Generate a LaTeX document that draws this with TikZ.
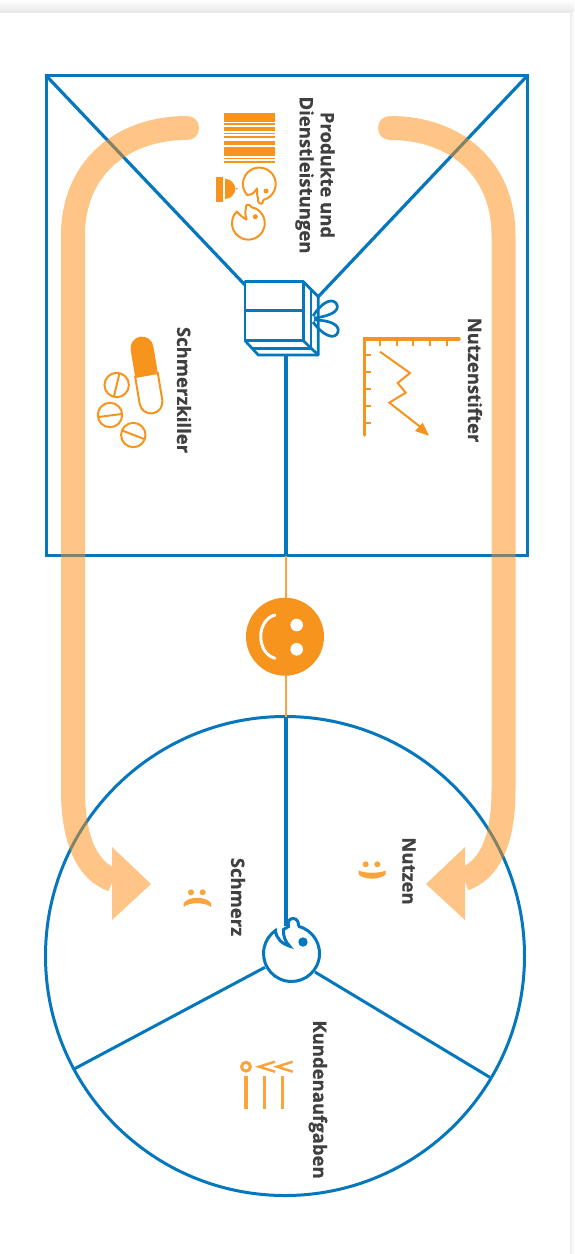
\documentclass[tikz,border=0pt]{standalone}
\usepackage{fontspec}
\setmainfont{Open Sans}[BoldFeatures={FakeBold=0.5}]
\definecolor{bl}{HTML}{0477BD}
\definecolor{og}{HTML}{F7941E}
\definecolor{og2}{HTML}{FBA33C}
\definecolor{fl}{HTML}{FF8D11}
\definecolor{tx}{HTML}{404040}
\tikzset{
  blueline/.style={draw=bl,line width=3pt},
  thinblue/.style={draw=bl,line width=3.2pt},
  orline/.style={draw=og,line width=2pt},
  flow/.style={draw=fl,line width=24pt,line cap=butt},
  flowtip/.style={fill=fl,draw=none},
  lab/.style={font=\bfseries\fontsize{18.5}{21}\selectfont,text=tx,rotate=-90,align=center,inner sep=0pt},
}
\begin{document}
\begin{tikzpicture}[x=1pt,y=-1pt]
\useasboundingbox (0,0) rectangle (574,1254);
\fill[white] (0,0) rectangle (574,1254);
\shade[top color=white,bottom color=black!9] (0,0) rectangle (574,12);
\shade[left color=black!7,right color=white] (570,12) rectangle (574,1254);
% value map
\node[blueline,outer sep=0pt,minimum width=481.5pt,minimum height=480pt,inner sep=0pt,anchor=north west] (map) at (46,75.5) {};
\coordinate (giftL) at (245,285);
\coordinate (giftR) at (318,297);
\draw[thinblue] (map.north west) -- (giftL);
\draw[thinblue] (map.north east) -- (giftR);
% profile circle
\node[blueline,circle,outer sep=0pt,minimum size=479pt,inner sep=0pt] (profile) at (285,956) {};
% fit line
\coordinate (giftB) at (286,355);
\coordinate (mapB) at (286,555.5);
\coordinate (circT) at (286,717);
\coordinate (headT) at (286,926);
\draw[draw=og2,line width=1.8pt] (mapB) -- (circT);
\node[circle,fill=og,minimum size=78pt,inner sep=0pt,outer sep=0pt] (smile) at (285,636.7) {};
\draw[thinblue] (giftB) -- (mapB);
\draw[thinblue] (circT) -- (headT);
% flows
\begin{scope}[transparency group,opacity=0.5]
\draw[flow] (187,128) .. controls (120,128) and (73,170) .. (73,235) -- (73,790) .. controls (73,845) and (90,872) .. (113,880);
\fill[fl] (187,116) .. controls (194,116) and (199,121) .. (199,128) .. controls (199,135) and (194,140) .. (187,140) -- cycle;
\fill[flowtip] (112,847) -- (151,884) -- (112,920) -- cycle;
\end{scope}
\begin{scope}[transparency group,opacity=0.5]
\draw[flow] (390,128) .. controls (457,128) and (503.5,170) .. (503.5,235) -- (503.5,790) .. controls (503.5,845) and (487,871) .. (464,879);
\fill[fl] (390,116) .. controls (383,116) and (378,121) .. (378,128) .. controls (378,135) and (383,140) .. (390,140) -- cycle;
\fill[flowtip] (465,847) -- (426,884) -- (465,920) -- cycle;
\end{scope}
% smile
\fill[white] (296.7,625) circle (6.3);
\fill[white] (296.7,649.3) circle (6.3);
\draw[white,line width=3pt,line cap=round] (275,615) .. controls (256,620) and (256,653) .. (275,658.3);
% gift
\begin{scope}[bl,line width=2.7pt,line join=round]
\draw (245,281.7) rectangle (303.3,340.7);
\draw (245,310.7) -- (303.3,310.7);
\draw (303.3,281.7) -- (318.3,296.7) -- (318.3,355) -- (258.3,355) -- (245,340.7);
\draw (303.3,340.7) -- (318.3,355);
\draw (311,290) -- (311,348.3) -- (253,348.3);
\draw (313,316) .. controls (320,305) and (330,297) .. (336,303) .. controls (341,310) and (332,316) .. (314,318);
\draw (314,320) .. controls (330,320) and (340,325) .. (338,332) .. controls (335,341) and (322,335) .. (313,322);
\end{scope}
% products icon
\foreach \a/\b in {113/121.7,123.3/125,126.7/131,132.7/134.3,136/138.3,140.7/145,147.3/156,157.7/159.3,161/162.7}{\fill[og] (224,\a) rectangle (275,\b);}
\fill[og] (216,177) rectangle (222.7,201.7);
\fill[og] (225,178.7) .. controls (231,179) and (235,184) .. (235.5,188.7) .. controls (235,194) and (231,199) .. (225,199) -- cycle;
\fill[og] (236,187.7) -- (238,188.7) -- (236,189.7) -- cycle;
\draw[orline,line join=round] (267.3,198.3) arc[start angle=60.8,end angle=-222.5,radius=16.4] .. controls (252,195) and (255,192) .. (257,188.5) .. controls (257,192) and (257,196) .. (258,198) .. controls (257,203) and (261,205) .. (262.5,203) .. controls (263,201) and (262,200) .. (267.3,198.3);
\fill[og] (266,191) circle (2.5);
\draw[orline,line join=round] (254.5,208) arc[start angle=-68,end angle=225,radius=16.4] .. controls (240,215) and (243,218) .. (246.7,219.5) .. controls (245,215) and (245,211) .. (246,208) .. controls (245.5,205) and (248,203.5) .. (249.5,205) .. controls (251,206) and (251,208) .. (254.5,208);
\fill[og] (255.3,216.7) circle (2.5);
% pill
\fill[og] (135.2,377) -- (130.7,350) .. controls (129.6,343.8) and (133.8,337.8) .. (140,336.7) .. controls (146.2,335.6) and (152.2,339.8) .. (153.3,346) -- (157.8,373) -- cycle;
\draw[orline] (135.2,377) -- (139.7,404) .. controls (140.8,410.2) and (146.8,414.4) .. (153,413.3) .. controls (159.2,412.2) and (163.4,406.2) .. (162.3,400) -- (157.8,373) -- cycle;
\draw[orline] (116.7,385) circle (12.2);
\draw[orline] (114,396) -- (119.3,374);
\draw[orline] (110,415) circle (12.2);
\draw[orline] (98.3,417) -- (121.7,414);
\draw[orline] (133.3,435) circle (12.2);
\draw[orline] (122.7,430.7) -- (145,439.3);
% chart
\begin{scope}[og]
\draw[line width=3.5pt,line cap=round,line join=miter] (459,339) -- (364.3,339) -- (364.3,435);
\foreach \x in {380,396.7,413,430,446.7}{\draw[line width=2pt] (\x,339) -- (\x,346);}
\foreach \y in {355,372,389,406,423}{\draw[line width=2pt] (364.3,\y) -- (371,\y);}
\draw[line width=2pt,line join=miter] (380,351.7) -- (410,373) -- (397.7,383) -- (405.7,392.7) -- (389.3,402.7) -- (421.7,428);
\fill (429,435.7) -- (415,431) -- (422.7,422.7) -- cycle;
\end{scope}
% spokes and head
\coordinate (hL) at (265,967.3);
\coordinate (hR) at (315,972);
\draw[blueline] (hL) -- (74,1069);
\draw[blueline] (hR) -- (491,1078);
\draw[blueline,line join=miter] (298.3,926.3) arc[start angle=-76,end angle=235,radius=28] .. controls (276,938) and (282,944) .. (289.5,946) .. controls (285,941) and (283,936) .. (283.5,929.5) -- (288.5,926.5) .. controls (287,921) and (290,918.5) .. (293,918.5) .. controls (297,918.5) and (299,922) .. (298.3,926.3);
\fill[bl] (303,942) circle (4.7);
% faces
\fill[og2] (365.7,864.3) circle (3);\fill[og2] (377.3,864.3) circle (3);
\fill[og2] (358.7,870.5) .. controls (365,873.5) and (379,873.5) .. (385.7,870.5) -- (385.7,874.5) .. controls (380,880) and (364,880) .. (358.7,874.5) -- cycle;
\fill[og2] (191,892.3) circle (3);\fill[og2] (202.7,892.3) circle (3);
\fill[og2] (183.7,907) .. controls (189,902) and (205,902) .. (211,907) -- (211,903) .. controls (205,896) and (189,896) .. (183.7,903) -- cycle;
% jobs
\begin{scope}[og2]
\draw[line width=3.5pt] (246,1076) -- (246,1109.3);
\draw[line width=3.5pt] (264.3,1076) -- (264.3,1109.3);
\draw[line width=3.5pt] (282.3,1076) -- (282.3,1109.3);
\draw[line width=3pt] (246,1066.7) circle (4.4);
\draw[line width=2.5pt] (275,1061.7) -- (259,1066.7) -- (275,1071.7);
\draw[line width=2.5pt] (292.7,1061.7) -- (277,1066.7) -- (292.7,1071.7);
\end{scope}
% labels
\node[lab] (l1) at (315,175) {Produkte und\\Dienstleistungen};
\node[lab] (l2) at (184,390) {Schmerzkiller};
\node[lab] (l3) at (475,380) {Nutzenstifter};
\node[lab] (l4) at (409,871) {Nutzen};
\node[lab] (l5) at (238,897) {Schmerz};
\node[lab] (l6) at (318,1099.5) {Kundenaufgaben};
\end{tikzpicture}
\end{document}
